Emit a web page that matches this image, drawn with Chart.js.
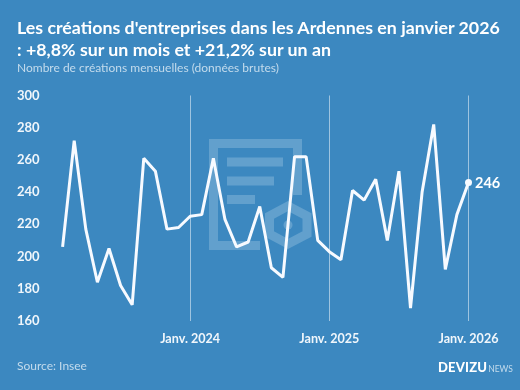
<!DOCTYPE html>
<html lang="fr">
<head>
<meta charset="utf-8">
<title>Créations d'entreprises dans les Ardennes</title>
<script src="https://cdn.jsdelivr.net/npm/chart.js@4"></script>
<style>
    html, body { margin: 0; padding: 0; }
    body { width: 520px; height: 390px; background: #3c88c0; overflow: hidden; position: relative; font-family: Lato, sans-serif; color: #fff; }
    #watermark { position: absolute; left: 0; top: 0; }
    #chartBox { position: absolute; left: 0; top: 0; width: 520px; height: 390px; }
    .txt { position: absolute; white-space: nowrap; }
    #titre { left: 17px; top: 15.5px; font-size: 17.8px; font-weight: 700; line-height: 22.5px; }
    #sousTitre { left: 17px; top: 60px; font-size: 12px; color: #c3dbec; }
    #source { left: 17px; top: 358px; font-size: 12px; color: #c3dbec; }
    #logo { left: 438px; top: 359px; font-size: 13px; font-weight: 900; letter-spacing: 0.2px; }
    #logo span { font-size: 8.5px; font-weight: 400; color: #c3dbec; margin-left: 1px; letter-spacing: 0; }
</style>
</head>
<body>
<svg id="watermark" width="520" height="390">
    <g fill="none" stroke="#62a0cd" stroke-width="9">
        <path d="M297.5 195V143.5H213.5V245.5H260"/>
        <path d="M227 162H283M227 181H274M227 199.5H255"/>
        <path d="M288 206L307 216V234L288 244L269.5 234V216Z"/>
    </g>
    <circle cx="288" cy="225" r="4.5" fill="#62a0cd"/>
</svg>
<div id="chartBox"><canvas id="graphique"></canvas></div>
<div class="txt" id="titre">Les créations d'entreprises dans les Ardennes en janvier 2026<br>: +8,8% sur un mois et +21,2% sur un an</div>
<div class="txt" id="sousTitre">Nombre de créations mensuelles (données brutes)</div>
<div class="txt" id="source">Source: Insee</div>
<div class="txt" id="logo">DEVIZU<span>NEWS</span></div>
<script>
const mois = [
    'févr. 2023', 'mars 2023', 'avr. 2023', 'mai 2023', 'juin 2023', 'juil. 2023', 'août 2023', 'sept. 2023', 'oct. 2023', 'nov. 2023', 'déc. 2023',
    'Janv. 2024', 'févr. 2024', 'mars 2024', 'avr. 2024', 'mai 2024', 'juin 2024', 'juil. 2024', 'août 2024', 'sept. 2024', 'oct. 2024', 'nov. 2024', 'déc. 2024',
    'Janv. 2025', 'févr. 2025', 'mars 2025', 'avr. 2025', 'mai 2025', 'juin 2025', 'juil. 2025', 'août 2025', 'sept. 2025', 'oct. 2025', 'nov. 2025', 'déc. 2025',
    'Janv. 2026'
];
const creations = [
    206, 272, 217, 184, 205, 182, 170, 261, 253, 217, 218,
    225, 226, 261, 223, 206, 209, 231, 193, 187, 262, 262, 210,
    203, 198, 241, 235, 248, 210, 253, 168, 240, 282, 192, 226,
    246
];
const ticksY = [160, 180, 200, 220, 240, 260, 280, 300];
const ticksX = ['Janv. 2024', 'Janv. 2025', 'Janv. 2026'];

const dernier = creations.length - 1;

// etiquette de la derniere valeur, a droite du point
const etiquetteFin = {
    id: 'etiquetteFin',
    afterDatasetsDraw(chart) {
        const pt = chart.getDatasetMeta(0).data[dernier];
        const c = chart.ctx;
        c.save();
        c.fillStyle = '#ffffff';
        c.font = '700 14.5px Lato, sans-serif';
        c.textAlign = 'left';
        c.textBaseline = 'middle';
        c.fillText(String(creations[dernier]), pt.x + 6.5, pt.y + 1);
        c.restore();
    }
};

new Chart(document.getElementById('graphique'), {
    type: 'line',
    data: {
        labels: mois,
        datasets: [{
            data: creations,
            borderColor: '#f7faff',
            borderWidth: 3,
            borderJoinStyle: 'bevel',
            tension: 0,
            clip: false,
            pointRadius: ctx => ctx.dataIndex === dernier ? 3.5 : 0,
            pointBackgroundColor: '#f7faff',
            pointBorderWidth: 0
        }]
    },
    options: {
        responsive: true,
        maintainAspectRatio: false,
        animation: false,
        layout: { padding: { left: 17, right: 51.5, top: 95.5, bottom: 34 } },
        scales: {
            x: {
                offset: false,
                border: { display: false },
                grid: {
                    drawTicks: false,
                    lineWidth: 1,
                    color: ctx => ticksX.includes(mois[ctx.index]) ? 'rgba(255,255,255,0.5)' : 'transparent'
                },
                ticks: {
                    autoSkip: false,
                    maxRotation: 0,
                    padding: 10,
                    color: '#f0f6fb',
                    font: { family: 'Lato, sans-serif', size: 12.6, weight: '700' },
                    callback(value) {
                        const lab = this.getLabelForValue(value);
                        return ticksX.includes(lab) ? lab : '';
                    }
                }
            },
            y: {
                min: 160,
                max: 300,
                border: { display: false },
                grid: { display: false, drawTicks: false },
                afterBuildTicks(axis) { axis.ticks = ticksY.map(v => ({ value: v })); },
                afterFit(axis) { axis.width = 45.6; },
                ticks: {
                    crossAlign: 'far',
                    padding: 0,
                    color: '#f0f6fb',
                    font: { family: 'Lato, sans-serif', size: 13, weight: '700' }
                }
            }
        },
        plugins: {
            legend: { display: false },
            title: { display: false },
            tooltip: { enabled: false }
        }
    },
    plugins: [etiquetteFin]
});
</script>
</body>
</html>
